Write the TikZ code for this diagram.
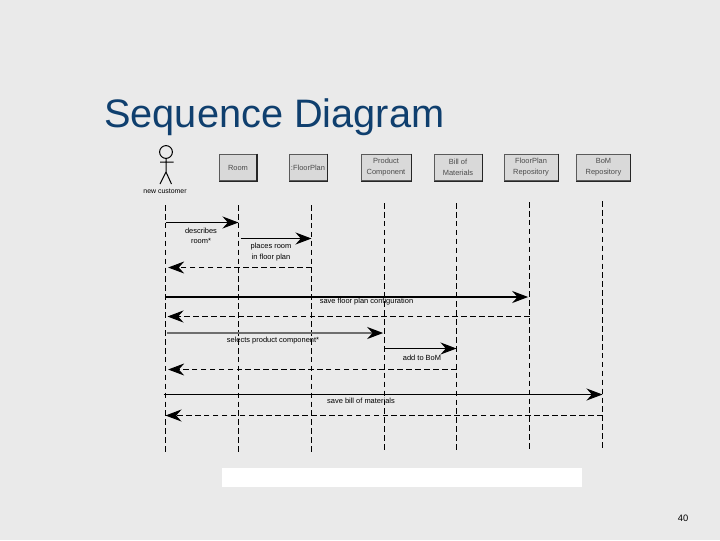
\documentclass[tikz,border=0pt]{standalone}
\usepackage{fontspec}
\setmainfont{Liberation Sans}
\setsansfont{Liberation Sans}
\usetikzlibrary{arrows.meta, positioning}
\definecolor{cslide}{HTML}{EAEAEA}
\definecolor{ctitle}{HTML}{0F3F6E}
\definecolor{cbox}{HTML}{D9D9D9}
\definecolor{cedge}{HTML}{5A5A5A}
\definecolor{cgrey}{HTML}{6E6E6E}
\tikzset{
  every picture/.style={font=\sffamily, x=0.75pt, y=-0.75pt},
  lifebox/.style={draw=cedge, fill=cbox, line width=0.75pt, align=center, inner sep=0pt, text=black!70, minimum height=20pt, font=\sffamily\fontsize{5.6}{8.2}\selectfont},
  boxshade/.style={draw=black!85, line width=1.1pt},
  lifeline/.style={draw=black, line width=0.75pt, dash pattern=on 4.2pt off 2.5pt},
  msg/.style={-{Stealth[length=12pt, width=9pt, inset=4pt, black]}, draw=black, line width=0.75pt},
  reply/.style={msg, dash pattern=on 4.2pt off 2.5pt},
  note/.style={font=\sffamily\fontsize{5.6}{7.6}\selectfont, align=center, inner sep=0pt},
}
\begin{document}
\begin{tikzpicture}
  \useasboundingbox (0,0) rectangle (720,540);
  \fill[cslide] (0,0) rectangle (720,540);
  \node[font=\fontsize{29.8}{34}\selectfont, text=ctitle, anchor=base west, inner sep=0pt] (title) at (104,127) {Sequence Diagram};
  \node[fill=white, minimum width=270pt, minimum height=14.25pt, inner sep=0pt] (blank) at (402,477.5) {};
  \node[font=\fontsize{7}{8}\selectfont, inner sep=0pt] (pagenum) at (683,518) {40};

  % actor
  \node[draw=black, circle, line width=0.75pt, minimum size=9.6pt, inner sep=0pt] (head) at (166,152) {};
  \coordinate (hip) at (166,172);
  \coordinate (armL) at (160,162);
  \coordinate (armR) at (173.5,162);
  \coordinate (footL) at (160,184);
  \coordinate (footR) at (171.5,184);
  \draw[line width=0.75pt] (head.south) -- (hip) (armL) -- (armR) (footL) -- (hip) -- (footR);
  \node[note, font=\sffamily\fontsize{5.2}{6}\selectfont] (customer) at (165,191) {new customer};

  % objects
  \node[lifebox, minimum width=27.5pt] (room) at (238,167.5) {Room};
  \node[lifebox, minimum width=28.5pt] (floorplan) at (308,167.5) {:FloorPlan};
  \node[lifebox, minimum width=37.5pt] (product) at (386,167.5) {Product\\Component};
  \node[lifebox, minimum width=36pt] (bill) at (458,167.5) {Bill of\\Materials};
  \node[lifebox, minimum width=40.5pt] (fprepo) at (531,167.5) {FloorPlan\\Repository};
  \node[lifebox, minimum width=40pt] (bomrepo) at (603.5,167.5) {BoM\\Repository};
  \foreach \b in {room, floorplan, product, bill, fprepo, bomrepo}
    \draw[boxshade] (\b.north east) -- (\b.south east) -- (\b.south west);

  % lifelines
  \coordinate (custT) at (165.5,205); \coordinate (custB) at (165.5,454);
  \coordinate (roomT) at (238.5,205); \coordinate (roomB) at (238.5,453);
  \coordinate (planT) at (311.5,205); \coordinate (planB) at (311.5,452);
  \coordinate (prodT) at (384.5,203); \coordinate (prodB) at (384.5,452);
  \coordinate (billT) at (456.5,203); \coordinate (billB) at (456.5,451);
  \coordinate (fpT) at (529.5,202);   \coordinate (fpB) at (529.5,449);
  \coordinate (bomT) at (602.5,201);  \coordinate (bomB) at (602.5,448);
  \draw[lifeline] (custT) -- (custB);
  \draw[lifeline] (roomT) -- (roomB);
  \draw[lifeline] (planT) -- (planB);
  \draw[lifeline] (prodT) -- (prodB);
  \draw[lifeline] (billT) -- (billB);
  \draw[lifeline] (fpT) -- (fpB);
  \draw[lifeline] (bomT) -- (bomB);

  % message rows
  \coordinate (r1) at (0,222.5);  \coordinate (r2) at (0,238.5);
  \coordinate (r3) at (0,267.5);  \coordinate (r4) at (0,297);
  \coordinate (r5) at (0,316.5);  \coordinate (r6) at (0,333);
  \coordinate (r7) at (0,348.5);  \coordinate (r8) at (0,369.5);
  \coordinate (r9) at (0,394.5);  \coordinate (r10) at (0,415.5);

  \draw[msg] (custT |- r1) -- (roomT |- r1);
  \draw[msg] ([xshift=1.5pt]roomT |- r2) -- (planT |- r2);
  \draw[reply] (planT |- r3) -- ([xshift=2pt]custT |- r3);
  \draw[msg, line width=1.5pt] (custT |- r4) -- ([xshift=-1pt]fpT |- r4);
  \draw[reply] (fpT |- r5) -- ([xshift=1.5pt]custT |- r5);
  \draw[msg, draw=cgrey, line width=1.5pt] ([xshift=1pt]custT |- r6) -- ([xshift=-1pt]prodT |- r6);
  \draw[msg] (prodT |- r7) -- (billT |- r7);
  \draw[reply] (billT |- r8) -- ([xshift=2pt]custT |- r8);
  \draw[msg] ([xshift=-1.5pt]custT |- r9) -- (bomT |- r9);
  \draw[reply] (bomT |- r10) -- (custT |- r10);

  \node[note] (describes) at (201,236) {describes\\room*};
  \node[note] (places) at (271,252) {places room\\in floor plan};
  \node[note] (saveplan) at (366.5,301.5) {save floor plan configuration};
  \node[note] (selects) at (273,341) {selects product component*};
  \node[note] (addbom) at (422,357.5) {add to BoM};
  \node[note] (savebill) at (361,400.5) {save bill of materials};
\end{tikzpicture}
\end{document}
